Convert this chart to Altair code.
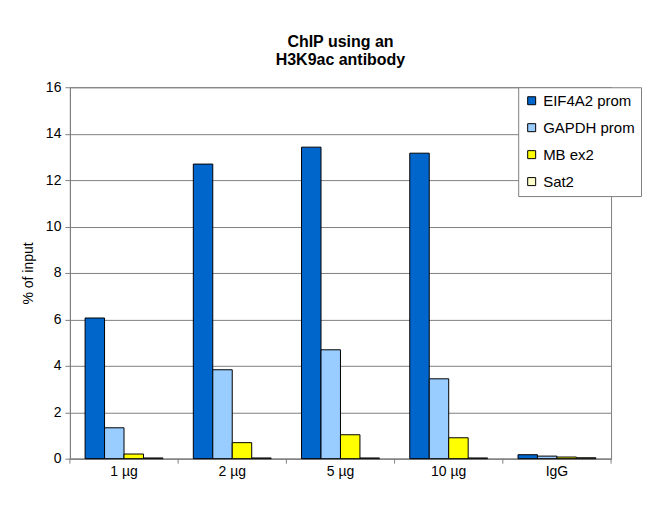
import altair as alt
import pandas as pd

categories = ["1 µg", "2 µg", "5 µg", "10 µg", "IgG"]
series = ["EIF4A2 prom", "GAPDH prom", "MB ex2", "Sat2"]
eif4a2 = [6.06, 12.69, 13.42, 13.16, 0.17]
gapdh = [1.33, 3.83, 4.69, 3.44, 0.11]
mb_ex2 = [0.20, 0.69, 1.03, 0.90, 0.07]
sat2 = [0.03, 0.03, 0.03, 0.03, 0.04]
colors = ["#0066CC", "#99CCFF", "#FFFF00", "#FFFFCC"]

rows = []
for name, vals in zip(series, [eif4a2, gapdh, mb_ex2, sat2]):
    for c, v in zip(categories, vals):
        rows.append({"cat": c, "series": name, "value": v})
df = pd.DataFrame(rows)
cat_df = pd.DataFrame({"cat": categories})
last_df = pd.DataFrame({"cat": categories[-1:]})

FONT = "Liberation Sans"
PLOT_H = 372

x_main = alt.X("cat:N", sort=categories, title=None,
               scale=alt.Scale(paddingInner=0, paddingOuter=0),
               axis=alt.Axis(labelAngle=0, ticks=False, labelFontSize=14, grid=False,
                             labelColor="black", labelPadding=6, domainColor="#808080",
                             labelFont=FONT))

bars = alt.Chart(df).mark_bar(stroke="black", strokeWidth=1).encode(
    x=x_main,
    xOffset=alt.XOffset("series:N", sort=series,
                        scale=alt.Scale(paddingInner=0, paddingOuter=0.78)),
    y=alt.Y("value:Q", title="% of input",
            scale=alt.Scale(domain=[0, 16]),
            axis=alt.Axis(values=list(range(0, 17, 2)), grid=True, gridColor="#808080",
                          domainColor="#808080", tickColor="#808080", tickSize=5,
                          labelFontSize=14, labelColor="black", labelPadding=4,
                          titleFontSize=14, titleFontWeight="normal", titleColor="black",
                          titlePadding=10, labelFont=FONT, titleFont=FONT)),
    color=alt.Color("series:N", sort=series,
                    scale=alt.Scale(domain=series, range=colors),
                    legend=alt.Legend(title=None, orient="none", legendX=449, legendY=0,
                                      symbolType="square", symbolSize=64,
                                      symbolStrokeColor="black", symbolStrokeWidth=1,
                                      labelFontSize=15, labelFont=FONT, labelColor="black",
                                      rowPadding=11, padding=6, labelOffset=4,
                                      strokeColor="#808080", fillColor="white")),
)

tick_start = alt.Chart(cat_df).mark_rule(color="#808080", strokeWidth=1).encode(
    x=alt.X("cat:N", sort=categories, bandPosition=0),
    y=alt.value(PLOT_H), y2=alt.value(PLOT_H + 5),
)
tick_end = alt.Chart(last_df).mark_rule(color="#808080", strokeWidth=1).encode(
    x=alt.X("cat:N", sort=categories, bandPosition=1),
    y=alt.value(PLOT_H), y2=alt.value(PLOT_H + 5),
)

chart = alt.layer(bars, tick_start, tick_end).properties(
    width=542, height=PLOT_H,
    title=alt.TitleParams(["ChIP using an", "H3K9ac antibody"], fontSize=16,
                          fontWeight="bold", font=FONT, color="black",
                          lineHeight=18, offset=12, anchor="middle"),
    padding={"left": 13, "top": 26, "right": 0, "bottom": 5},
).configure_view(stroke="#808080", strokeWidth=1)

chart.save("out.html", embed_options={"renderer": "svg", "actions": False})
